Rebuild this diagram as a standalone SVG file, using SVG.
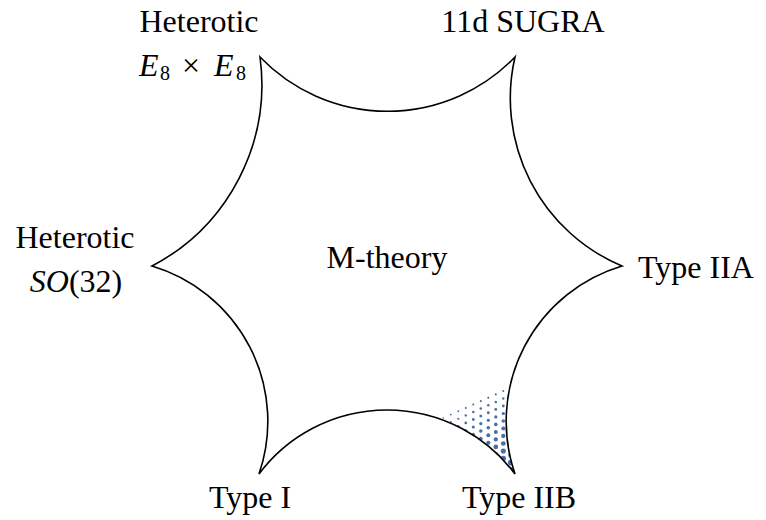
<svg xmlns="http://www.w3.org/2000/svg" xmlns:xlink="http://www.w3.org/1999/xlink" width="766" height="520" viewBox="0 0 766 520">
<style>
.lbl{font-family:"Liberation Serif","DejaVu Serif",serif;font-size:32px;fill:#000;text-anchor:middle}
.st{text-anchor:start}
.it{font-style:italic}
.sub{font-size:20px}
.outline{fill:none;stroke:#000;stroke-width:1.6}
.dot{fill:#4670a6}
</style>
<defs>
<path id="star" d="M 260 57 A 177 177 0 0 0 515 57 A 182 182 0 0 0 622 266 A 162 162 0 0 0 515 474 A 160 160 0 0 0 259 474 A 162 162 0 0 0 152 266 A 205 205 0 0 0 260 57 Z"/>
<clipPath id="clipStar"><use xlink:href="#star"/></clipPath>
</defs>
<g id="shading" clip-path="url(#clipStar)">
<circle class="dot" cx="510.8" cy="387.6" r="0.9"/><circle class="dot" cx="510.8" cy="395.1" r="1.15"/><circle class="dot" cx="510.8" cy="402.6" r="1.35"/><circle class="dot" cx="510.8" cy="410.1" r="1.55"/><circle class="dot" cx="510.8" cy="417.6" r="1.75"/><circle class="dot" cx="510.8" cy="425.1" r="1.95"/><circle class="dot" cx="510.8" cy="432.6" r="2.1"/><circle class="dot" cx="510.8" cy="440.1" r="2.3"/><circle class="dot" cx="510.8" cy="447.6" r="2.5"/><circle class="dot" cx="510.8" cy="455.1" r="2.7"/><circle class="dot" cx="510.8" cy="462.6" r="2.9"/><circle class="dot" cx="510.8" cy="470.1" r="3.0"/>
<circle class="dot" cx="503.3" cy="391" r="1.0"/><circle class="dot" cx="503.3" cy="398.5" r="1.2"/><circle class="dot" cx="503.3" cy="406" r="1.4"/><circle class="dot" cx="503.3" cy="413.5" r="1.6"/><circle class="dot" cx="503.3" cy="421" r="1.8"/><circle class="dot" cx="503.3" cy="428.5" r="2.0"/><circle class="dot" cx="503.3" cy="436" r="2.15"/><circle class="dot" cx="503.3" cy="443.5" r="2.35"/><circle class="dot" cx="503.3" cy="451" r="2.55"/><circle class="dot" cx="503.3" cy="458.5" r="2.7"/>
<circle class="dot" cx="495.8" cy="394.4" r="1.05"/><circle class="dot" cx="495.8" cy="401.9" r="1.25"/><circle class="dot" cx="495.8" cy="409.4" r="1.45"/><circle class="dot" cx="495.8" cy="416.9" r="1.6"/><circle class="dot" cx="495.8" cy="424.4" r="1.8"/><circle class="dot" cx="495.8" cy="431.9" r="2.0"/><circle class="dot" cx="495.8" cy="439.4" r="2.15"/><circle class="dot" cx="495.8" cy="446.9" r="2.35"/><circle class="dot" cx="495.8" cy="454.4" r="2.5"/>
<circle class="dot" cx="488.3" cy="397.75" r="1.05"/><circle class="dot" cx="488.3" cy="405.25" r="1.25"/><circle class="dot" cx="488.3" cy="412.75" r="1.45"/><circle class="dot" cx="488.3" cy="420.25" r="1.6"/><circle class="dot" cx="488.3" cy="427.75" r="1.8"/><circle class="dot" cx="488.3" cy="435.25" r="1.95"/><circle class="dot" cx="488.3" cy="442.75" r="2.1"/><circle class="dot" cx="488.3" cy="450.25" r="2.25"/>
<circle class="dot" cx="480.8" cy="401.1" r="1.05"/><circle class="dot" cx="480.8" cy="408.6" r="1.25"/><circle class="dot" cx="480.8" cy="416.1" r="1.45"/><circle class="dot" cx="480.8" cy="423.6" r="1.6"/><circle class="dot" cx="480.8" cy="431.1" r="1.75"/><circle class="dot" cx="480.8" cy="438.6" r="1.9"/><circle class="dot" cx="480.8" cy="446.1" r="2.05"/>
<circle class="dot" cx="473.3" cy="404.5" r="1.05"/><circle class="dot" cx="473.3" cy="412" r="1.25"/><circle class="dot" cx="473.3" cy="419.5" r="1.4"/><circle class="dot" cx="473.3" cy="427" r="1.55"/><circle class="dot" cx="473.3" cy="434.5" r="1.7"/><circle class="dot" cx="473.3" cy="442" r="1.85"/>
<circle class="dot" cx="465.8" cy="407.9" r="1.0"/><circle class="dot" cx="465.8" cy="415.4" r="1.2"/><circle class="dot" cx="465.8" cy="422.9" r="1.35"/><circle class="dot" cx="465.8" cy="430.4" r="1.5"/><circle class="dot" cx="465.8" cy="437.9" r="1.6"/>
<circle class="dot" cx="458.3" cy="411.25" r="0.95"/><circle class="dot" cx="458.3" cy="418.75" r="1.1"/><circle class="dot" cx="458.3" cy="426.25" r="1.25"/><circle class="dot" cx="458.3" cy="433.75" r="1.4"/>
<circle class="dot" cx="450.8" cy="414.6" r="0.9"/><circle class="dot" cx="450.8" cy="422.1" r="1.05"/><circle class="dot" cx="450.8" cy="429.6" r="1.2"/>
<circle class="dot" cx="443.3" cy="418" r="0.8"/><circle class="dot" cx="443.3" cy="425.5" r="0.95"/>
</g>
<g id="connectors">
<use xlink:href="#star" class="outline"/>
</g>
<g id="m-theory"><text class="lbl" x="387" y="268">M-theory</text></g>
<g id="het-e8"><text class="lbl" x="199" y="32">Heterotic</text><text class="lbl st" y="76"><tspan class="it" x="139">E</tspan><tspan class="sub" x="160" dy="4">8</tspan><tspan x="182" dy="-4">×</tspan><tspan class="it" x="214">E</tspan><tspan class="sub" x="236" dy="4">8</tspan></text></g>
<g id="sugra"><text class="lbl" x="523" y="32">11d SUGRA</text></g>
<g id="het-so"><text class="lbl" x="75" y="248">Heterotic</text><text class="lbl" x="76" y="292"><tspan class="it">SO</tspan>(32)</text></g>
<g id="iia"><text class="lbl st" x="638" y="278">Type IIA</text></g>
<g id="typei"><text class="lbl" x="250" y="508">Type I</text></g>
<g id="iib"><text class="lbl" x="519" y="508">Type IIB</text></g>
</svg>
